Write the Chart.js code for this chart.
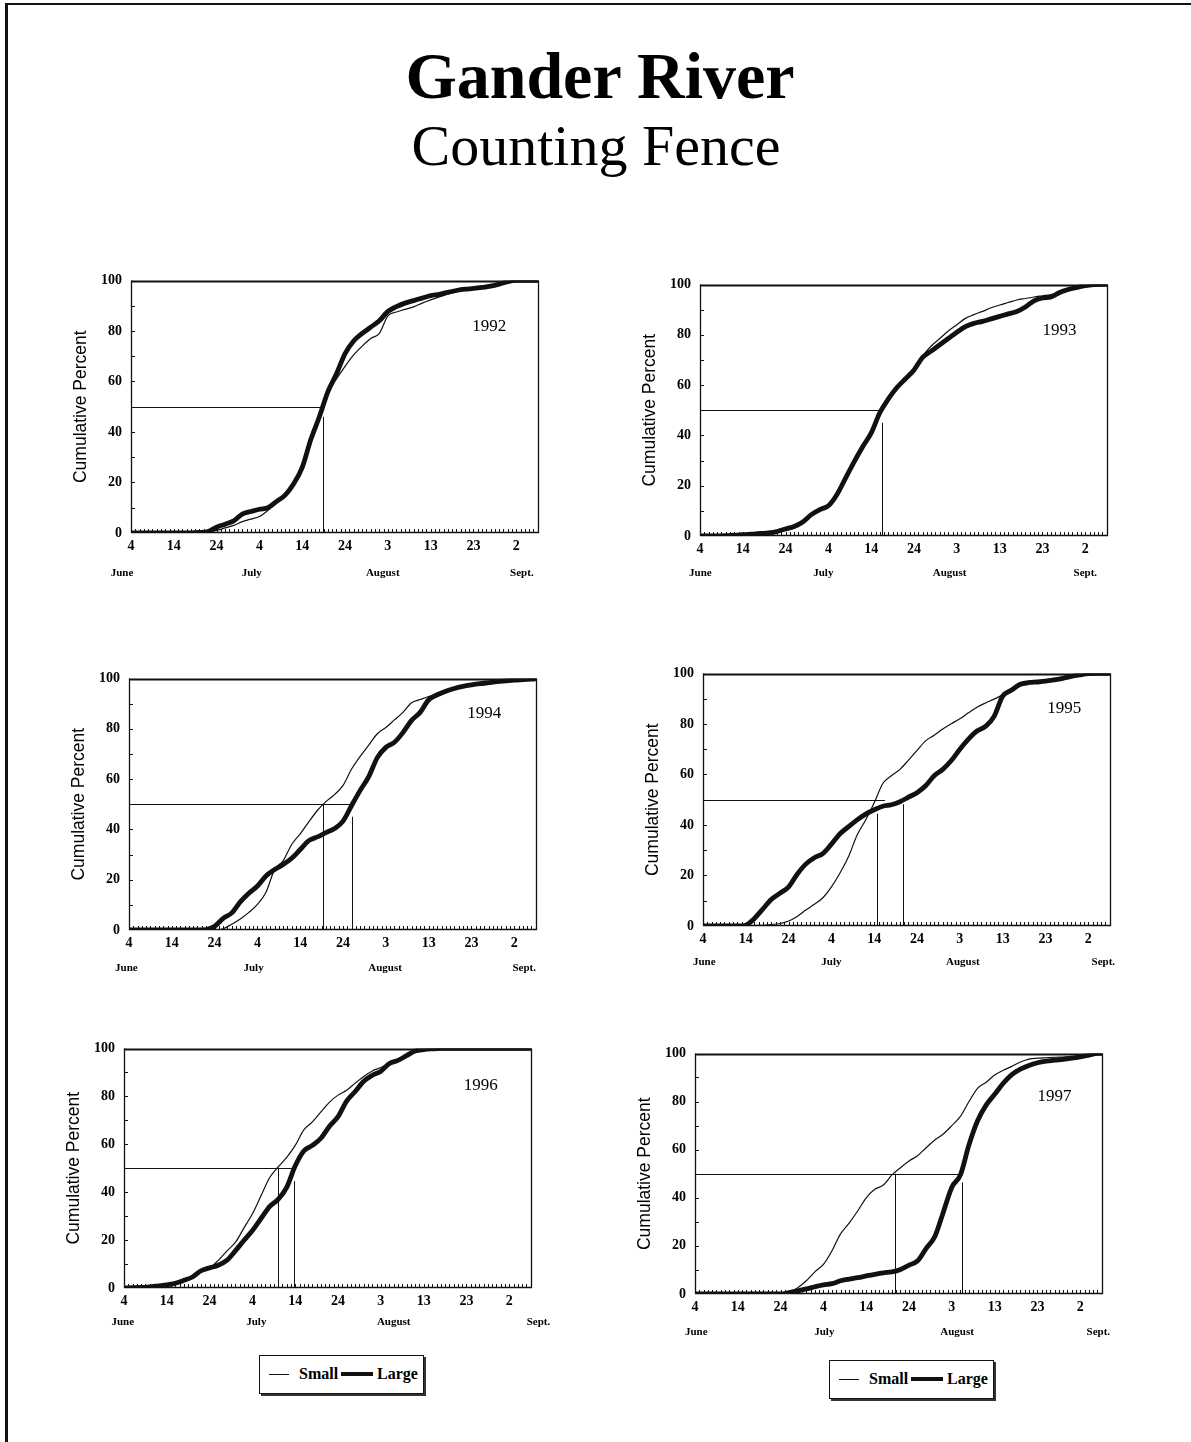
<!DOCTYPE html>
<html>
<head>
<meta charset="utf-8">
<script src="https://cdn.jsdelivr.net/npm/chart.js@4.4.1/dist/chart.umd.min.js"></script>
<style>
  html, body { margin: 0; padding: 0; background: #fff; }
  body { width: 1191px; height: 1442px; position: relative; overflow: hidden; font-family: 'Liberation Serif', 'Times New Roman', serif; }
  #frame { position: absolute; left: 5px; top: 3px; width: 1200px; height: 1500px; border-left: 3px solid #111; border-top: 2px solid #111; }
  .t1 { position: absolute; left: 0; width: 1200px; text-align: center; font-weight: bold; font-size: 66px; line-height: 66px; top: 43px; color: #000; }
  .t2 { position: absolute; left: 0; width: 1192px; text-align: center; font-size: 58px; line-height: 58px; top: 117px; color: #000; }
  canvas { position: absolute; }
  .legend { position: absolute; width: 163px; height: 37px; border: 1px solid #111; box-shadow: 2px 2px 0 #333; background: #fff; }
  .legend .ln { position: absolute; top: 18px; background: #111; }
  .legend .lt { position: absolute; top: 8px; font-weight: bold; font-size: 16px; line-height: 20px; color: #000; }
</style>
</head>
<body>
<div id="frame"></div>
<div class="t1">Gander River</div>
<div class="t2">Counting Fence</div>

<script>
// ---------------- data ----------------
const days = [0,2,4,6,8,10,12,14,16,18,20,22,24,26,28,30,32,34,36,38,40,42,44,46,48,50,52,54,56,58,60,62,64,66,68,70,72,74,76,78,80,82,84,86,88,90,92,94,95];
const xTickDays = [0,10,20,30,40,50,60,70,80,90];
const xTickLabels = ['4','14','24','4','14','24','3','13','23','2'];
const monthNames = ['June','July','August','Sept.'];
const seriesNames = ['Small','Large'];
const yearNames = ['1992','1993','1994','1995','1996','1997'];

const small1992 = [0,0,0,0,0,0,0,0,0, 0.3,1,2,3,4.5,5.5,6.5,9,12,15, 19.5,26,37,46,56,61,66,70.5,74,77, 79,86,87.5,88.5,89.5,91,92.3,93.5,94.5,95.5, 96.2,96.8,97.2,97.7,98.5,99.5,100,100,100,100];
const large1992 = [0,0,0,0,0,0,0,0, 0.2,0.6,2.3,3.5,4.8,7.5,8.5,9.4,10,12.5, 15,19.5,26,37,46,56,63,71,76,79, 81.5,84,87.7,89.6,91,92,93,94,94.5,95.3, 96,96.5,96.8,97.2,97.7,98.5,99.5,100,100,100,100];

const small1993 = [0,0,0,0.1,0.3,0.5,0.7,1,1.2,1.8, 2.8,3.8,5.6,8.5,10.5,12,16.5,23,29.5,35.5, 41,49,54.5,59,62.5,66.5,71.5,75.5,78.5,81.5, 84,86.5,88,89.3,90.7,91.8,92.8,93.8,94.4,95, 95.5,96,96.9,98,98.8,99.5,99.9,100,100];
const large1993 = [0,0,0,0.1,0.3,0.5,0.7,1,1.2,1.8, 2.8,3.8,5.6,8.5,10.5,12,16.5,23,29.5,35.5, 41,49,54.5,59,62.5,66,71,73.5,76,78.5, 81,83.2,84.5,85.3,86.3,87.3,88.3,89.2,91,93.5, 94.6,95,96.8,98,98.8,99.5,99.9,100,100];

const small1994 = [0,0,0,0,0,0,0,0,0,0,0, 0.5,2.3,4.4,7,10.2,15,24,27.5,34, 38.2,43,47.5,51,53.8,57.5,64,69,73.5,78, 80.5,83.5,86.5,90.3,91.6,92.8,93.6,94.9,96,96.8, 97.4,97.9,98.3,98.7,99,99.3,99.5,99.7,99.8];
const large1994 = [0,0,0,0,0,0,0,0,0, 0.2,1.5,4.6,6.8,11.2,14.6,17.5,21.5,24,26, 28.5,32,35.5,37,38.7,40.3,43.3,49.5,55.5,61, 68.5,72.6,74.6,78.5,83.3,86.5,91.5,93.5,94.9,96, 96.8,97.4,97.9,98.3,98.7,99,99.3,99.5,99.7,99.8];

const small1995 = [0,0,0,0,0,0, 0.2,0.3,0.6,1, 2,3.8,6.3,8.6,11.2,15.5,21,27.5,36,42, 48.8,56.4,59.5,62,65.7,69.5,73.3,75.5,78,80.1, 82,84.4,86.6,88.3,89.8,91.5,93.3,95.6,96.3,96.6, 96.9,97.4,98,98.8,99.4,99.9,100,100,100];
const large1995 = [0,0,0,0,0, 0.3,3,6.8,10.6,13, 15.5,20.5,24.5,27,28.7,32.4,36.5,39.3,42,44.3, 46,47.4,48,49.2,51,52.8,55.5,59.5,62,65.5, 70,74,77.2,79,83,91,93.3,95.6,96.3,96.6, 96.9,97.4,98,98.8,99.4,99.9,100,100,100];

const small1996 = [0,0.1,0.2,0.5,0.9,1.3,2,3.2,4.6,7.2, 8.4,11.5,15.4,19,25,31,38.5,46,50.5,54.5, 59.5,66,69.3,73.5,77.6,80.5,82.5,85.5,88.3,90.6, 92,93.7,95,97,98.9,99.5,99.8,100,100,100, 100,100,100,100,100,100,100,100,100];
const large1996 = [0,0.1,0.2,0.5,0.9,1.3,2,3.2,4.6,7.2, 8.4,9.5,11.5,15.5,19.8,24,29,34,37,42, 51,57.2,59.5,62.5,67.5,71.5,78,82,86.3,88.8, 90.5,93.7,95,97,98.9,99.5,99.8,100,100,100, 100,100,100,100,100,100,100,100,100];

const small1997 = [0,0,0,0,0,0,0,0,0,0, 0,0.6,2.6,5.5,9.2,12.3,18,25,29.5,34.5, 40,43.5,45.3,49.5,52.5,55.3,57.5,60.8,64,66.5, 70,73.8,80,85.5,88,91,93,94.6,96.4,97.6, 98,98.2,98.4,98.5,98.6,99,99.6,100,100];
const large1997 = [0,0,0,0,0,0,0,0,0,0, 0,0.6,1.3,2.1,3,3.8,4.3,5.5,6.2,6.8, 7.5,8.2,8.8,9.2,10.2,12,13.8,19,23.8,34, 44.4,49.5,62,72,78.5,83,87.6,91.2,93.5,95, 96.1,96.8,97.2,97.5,98,98.6,99.3,100,100];

// 50% crossing dates (days after June 4) and the height of each drop line
const medians1992 = [44.9];       const medianTops1992 = [46];
const medians1993 = [42.4];       const medianTops1993 = [45];
const medians1994 = [45.2, 52.1]; const medianTops1994 = [50, 45];
const medians1995 = [40.7, 46.6]; const medianTops1995 = [44.5, 48.2];
const medians1996 = [36.0, 39.7]; const medianTops1996 = [50, 44.6];
const medians1997 = [46.6, 62.4]; const medianTops1997 = [50, 46.4];
const guideEnds = [44.8, 42.2, 52.1, 42.5, 39.3, 62.0];

// ---------------- layout (positions / styles only) ----------------
const panels = [
  { year: 0, small: small1992, large: large1992, med: medians1992, medTop: medianTops1992,
    plot: {l:131, t:275, w:408, h:258}, monthAt: [-2.1, 28.2, 58.8, 91.3], monthDy: 40, yearAt: [83.7, 81.8] },
  { year: 1, small: small1993, large: large1993, med: medians1993, medTop: medianTops1993,
    plot: {l:700, t:279, w:408, h:257}, monthAt: [0.1, 28.8, 58.3, 90.0], monthDy: 37, yearAt: [84.0, 81.7] },
  { year: 2, small: small1994, large: large1994, med: medians1994, medTop: medianTops1994,
    plot: {l:129, t:673, w:408, h:257}, monthAt: [-0.6, 29.1, 59.8, 92.3], monthDy: 38, yearAt: [83.0, 86.0] },
  { year: 3, small: small1995, large: large1995, med: medians1995, medTop: medianTops1995,
    plot: {l:703, t:668, w:408, h:258}, monthAt: [0.3, 30.0, 60.7, 93.5], monthDy: 36, yearAt: [84.4, 86.0] },
  { year: 4, small: small1996, large: large1996, med: medians1996, medTop: medianTops1996,
    plot: {l:124, t:1043, w:408, h:245}, monthAt: [-0.3, 30.9, 63.0, 96.8], monthDy: 34, yearAt: [83.3, 84.5] },
  { year: 5, small: small1997, large: large1997, med: medians1997, medTop: medianTops1997,
    plot: {l:695, t:1048, w:408, h:246}, monthAt: [0.3, 30.2, 61.2, 94.2], monthDy: 38, yearAt: [84.0, 82.0] }
];
const legends = [ {left: 259, top: 1355}, {left: 829, top: 1360} ];

const INK = '#111';
const AXL = 75, PADT = 12, PADR = 22, XAH = 50;

const deco = {
  id: 'deco',
  beforeDatasetsDraw(chart, args, o) {
    const {ctx, chartArea: a, scales: {x, y}} = chart;
    ctx.save();
    ctx.strokeStyle = INK;
    // 50% guide lines
    ctx.lineWidth = 1;
    const y50 = Math.round(y.getPixelForValue(50)) + 0.5;
    const y0 = y.getPixelForValue(0);
    ctx.beginPath();
    ctx.moveTo(a.left, y50);
    ctx.lineTo(x.getPixelForValue(o.guideEnd), y50);
    o.med.forEach((m, i) => {
      const px = Math.round(x.getPixelForValue(m)) + 0.5;
      ctx.moveTo(px, y0);
      ctx.lineTo(px, y.getPixelForValue(o.medTop[i]));
    });
    ctx.stroke();
    // plot frame
    ctx.lineWidth = 1.3;
    ctx.beginPath();
    ctx.moveTo(a.left + 0.5, a.bottom); ctx.lineTo(a.left + 0.5, a.top);
    ctx.moveTo(a.right - 0.5, a.top); ctx.lineTo(a.right - 0.5, a.bottom);
    ctx.moveTo(a.left, a.bottom - 0.5); ctx.lineTo(a.right, a.bottom - 0.5);
    ctx.stroke();
    ctx.lineWidth = 2;
    ctx.beginPath();
    ctx.moveTo(a.left, a.top + 1); ctx.lineTo(a.right, a.top + 1);
    ctx.stroke();
    // daily minor ticks on the date axis
    ctx.lineWidth = 1;
    ctx.beginPath();
    for (let d = 0; d <= x.max; d++) {
      const px = Math.round(x.getPixelForValue(d)) + 0.5;
      ctx.moveTo(px, a.bottom);
      ctx.lineTo(px, a.bottom - 4);
    }
    // minor ticks on the percent axis
    for (let v = 10; v < 100; v += 10) {
      const py = Math.round(y.getPixelForValue(v)) + 0.5;
      ctx.moveTo(a.left, py);
      ctx.lineTo(a.left + 4, py);
    }
    ctx.stroke();
    ctx.restore();
  },
  afterDraw(chart, args, o) {
    const {ctx, chartArea: a, scales: {x, y}} = chart;
    ctx.save();
    ctx.fillStyle = '#000';
    ctx.textAlign = 'center';
    ctx.textBaseline = 'middle';
    ctx.font = '17px "Liberation Serif"';
    ctx.fillText(o.yearText, x.getPixelForValue(o.yearAt[0]), y.getPixelForValue(o.yearAt[1]));
    ctx.font = 'bold 11px "Liberation Serif"';
    monthNames.forEach((m, i) => {
      ctx.fillText(m, x.getPixelForValue(o.monthAt[i]), a.bottom + o.monthDy);
    });
    ctx.restore();
  }
};

panels.forEach((p) => {
  const cv = document.createElement('canvas');
  const W = p.plot.w + AXL + PADR;
  const H = p.plot.h + PADT + XAH;
  cv.width = W; cv.height = H;
  cv.style.left = (p.plot.l - AXL) + 'px';
  cv.style.top = (p.plot.t - PADT) + 'px';
  cv.style.width = W + 'px'; cv.style.height = H + 'px';
  document.body.appendChild(cv);

  const tickFont = {family: 'Liberation Serif', weight: 'bold', size: 14};
  new Chart(cv, {
    type: 'line',
    data: {
      datasets: [
        { label: seriesNames[0], data: days.map((d, i) => ({x: d, y: p.small[i]})),
          borderColor: INK, borderWidth: 1.2, pointRadius: 0, fill: false, cubicInterpolationMode: 'monotone' },
        { label: seriesNames[1], data: days.map((d, i) => ({x: d, y: p.large[i]})),
          borderColor: INK, borderWidth: 4.8, pointRadius: 0, fill: false, cubicInterpolationMode: 'monotone' }
      ]
    },
    options: {
      responsive: false, animation: false, devicePixelRatio: 1,
      layout: { padding: { top: PADT, right: PADR, left: 0, bottom: 0 } },
      plugins: {
        legend: { display: false }, tooltip: { enabled: false },
        deco: { guideEnd: guideEnds[p.year], med: p.med, medTop: p.medTop,
                yearText: yearNames[p.year], yearAt: p.yearAt, monthAt: p.monthAt, monthDy: p.monthDy }
      },
      scales: {
        x: {
          type: 'linear', min: 0, max: 95.3,
          afterBuildTicks: s => { s.ticks = xTickDays.map(v => ({value: v})); },
          afterFit: s => { s.height = XAH; },
          grid: { display: false, drawTicks: false }, border: { display: false },
          ticks: { autoSkip: false, maxRotation: 0, minRotation: 0, padding: 5, font: tickFont, color: '#000',
                   callback: (v, i) => xTickLabels[i] }
        },
        y: {
          min: 0, max: 100,
          afterFit: s => { s.width = AXL; },
          grid: { display: false, drawTicks: false }, border: { display: false },
          ticks: { stepSize: 20, padding: 9, font: tickFont, color: '#000' },
          title: { display: true, text: 'Cumulative Percent', color: '#000',
                   font: { family: 'Liberation Sans', size: 17.5 }, padding: { top: 15, bottom: 0 } }
        }
      }
    },
    plugins: [deco]
  });
});

// legends built from the series names
legends.forEach(L => {
  const box = document.createElement('div');
  box.className = 'legend';
  box.style.left = L.left + 'px'; box.style.top = L.top + 'px';
  const parts = [
    {cls: 'ln', left: 9, w: 20, h: 1},
    {cls: 'lt', left: 39, text: seriesNames[0]},
    {cls: 'ln', left: 81, w: 32, h: 4},
    {cls: 'lt', left: 117, text: seriesNames[1]}
  ];
  parts.forEach(pt => {
    const e = document.createElement('span');
    e.className = pt.cls;
    e.style.left = pt.left + 'px';
    if (pt.text) e.textContent = pt.text;
    else { e.style.width = pt.w + 'px'; e.style.height = pt.h + 'px'; e.style.top = (18 - Math.floor(pt.h / 2)) + 'px'; }
    box.appendChild(e);
  });
  document.body.appendChild(box);
});
</script>
</body>
</html>
